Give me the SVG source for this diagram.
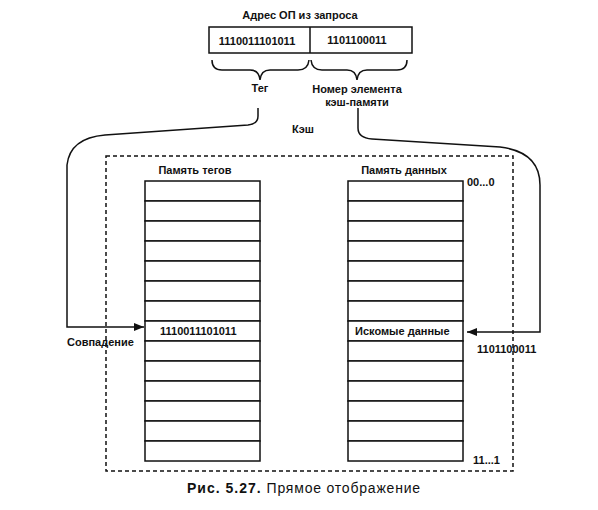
<svg xmlns="http://www.w3.org/2000/svg" width="598" height="510" viewBox="0 0 598 510">
<defs>
<style>
text{font-family:"Liberation Sans",Arial,sans-serif;font-size:11px;font-weight:bold;fill:#111}
.ln{fill:none;stroke:#111;stroke-width:1.5}
.row{fill:#fff;stroke:#111;stroke-width:1.5}
.dash{fill:none;stroke:#111;stroke-width:1.5;stroke-dasharray:4,3}
</style>
<marker id="ah" viewBox="0 0 10 8" refX="10" refY="4" markerWidth="10" markerHeight="8" markerUnits="userSpaceOnUse" orient="auto">
<path d="M0,0 L10,4 L0,8 Z" fill="#111"/>
</marker>
<g id="rows">
<rect class="row" x="0" y="0" width="115" height="20"/>
<rect class="row" x="0" y="20" width="115" height="20"/>
<rect class="row" x="0" y="40" width="115" height="20"/>
<rect class="row" x="0" y="60" width="115" height="20"/>
<rect class="row" x="0" y="80" width="115" height="20"/>
<rect class="row" x="0" y="100" width="115" height="20"/>
<rect class="row" x="0" y="120" width="115" height="20"/>
<rect class="row" x="0" y="140" width="115" height="20"/>
<rect class="row" x="0" y="160" width="115" height="20"/>
<rect class="row" x="0" y="180" width="115" height="20"/>
<rect class="row" x="0" y="200" width="115" height="20"/>
<rect class="row" x="0" y="220" width="115" height="20"/>
<rect class="row" x="0" y="240" width="115" height="20"/>
<rect class="row" x="0" y="260" width="115" height="20"/>
</g>
</defs>
<rect width="598" height="510" fill="#fff"/>

<g id="address">
<text x="300" y="19" text-anchor="middle">Адрес ОП из запроса</text>
<rect class="ln" x="209" y="27" width="203" height="26"/>
<line class="ln" x1="310" y1="27" x2="310" y2="53"/>
<text x="257" y="45" text-anchor="middle">1110011101011</text>
<text x="357" y="44" text-anchor="middle">1101100011</text>
</g>

<g id="braces">
<path class="ln" d="M212,60 Q212,70 222,70 L250,70 Q259,70 260,80 Q261,70 270,70 L298,70 Q308,70 309,60"/>
<path class="ln" d="M311,60 Q312,70 322,70 L347,70 Q356,70 357,80 Q358,70 367,70 L397,70 Q407,70 407,60"/>
<text x="260" y="92" text-anchor="middle">Тег</text>
<text x="357" y="93" text-anchor="middle">Номер элемента</text>
<text x="357" y="106" text-anchor="middle">кэш-памяти</text>
</g>

<g id="cache">
<rect class="dash" x="106" y="156" width="407" height="315"/>
<text x="303" y="133" text-anchor="middle">Кэш</text>
</g>

<g id="tag-memory">
<text x="195" y="174" text-anchor="middle">Память тегов</text>
<use href="#rows" x="145" y="181"/>
<text x="160" y="335">1110011101011</text>
</g>

<g id="data-memory">
<text x="404" y="174" text-anchor="middle">Память данных</text>
<use href="#rows" x="348" y="181"/>
<text x="467" y="186">00...0</text>
<text x="355" y="335">Искомые данные</text>
<text x="473" y="464">11...1</text>
</g>

<g id="connectors">
<path class="ln" marker-end="url(#ah)" d="M258,108 L258,116 Q258,124 248,125 L105,135 Q70,138 67,165 L67,327 L144,327"/>
<path class="ln" marker-end="url(#ah)" d="M358,108 L358,128 Q358,138 372,139 L500,147 Q540,152 540,185 L540,332 L467,332"/>
</g>

<g id="labels">
<text x="67" y="346">Совпадение</text>
<text x="477" y="353">1101100011</text>
</g>

<text x="187" y="493" style="font-size:14px;font-weight:bold;letter-spacing:1px">Рис. 5.27. <tspan style="font-weight:normal;letter-spacing:0.8px">Прямое отображение</tspan></text>
</svg>
